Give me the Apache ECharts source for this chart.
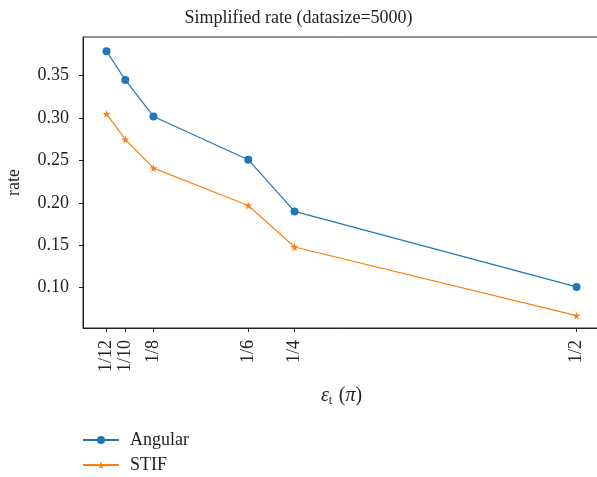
<!DOCTYPE html>
<html>
<head>
<meta charset="utf-8">
<script src="https://cdn.jsdelivr.net/npm/echarts@6/dist/echarts.min.js"></script>
<style>
  html, body { margin: 0; padding: 0; background: #fff; }
  #chart { width: 597px; height: 477px; }
</style>
</head>
<body>
<div id="chart"></div>
<script>
// x positions as placed on the plot, and the labels shown at them
const xPositions = [1 / 12, 1 / 10, 1 / 8, 0.209, 1 / 4, 1 / 2];
const xLabels = ['1/12', '1/10', '1/8', '1/6', '1/4', '1/2'];
const yTicks = [0.10, 0.15, 0.20, 0.25, 0.30, 0.35];
const angular = [0.379, 0.345, 0.302, 0.251, 0.190, 0.101];
const stif = [0.305, 0.275, 0.241, 0.197, 0.148, 0.067];

const font = '"Liberation Serif", "DejaVu Serif", serif';
const axisColor = '#222';

const chart = echarts.init(document.getElementById('chart'), null, { renderer: 'canvas' });

const option = {
  animation: false,
  title: {
    text: 'Simplified rate (datasize=5000)',
    left: 'center',
    top: 4,
    textStyle: { fontFamily: font, fontSize: 18, fontWeight: 'normal', color: '#222' }
  },
  grid: {
    left: 83,
    right: -3,
    top: 37,
    bottom: 149,
    show: true,
    borderColor: axisColor,
    borderWidth: 1,
    containLabel: false,
    outerBoundsMode: 'none'
  },
  legend: {
    orient: 'vertical',
    left: 82,
    top: 431,
    padding: 0,
    itemWidth: 36,
    itemHeight: 10,
    itemGap: 7,
    textStyle: { fontFamily: font, fontSize: 18, color: '#222', padding: [0, 0, 0, 6] },
    data: ['Angular', 'STIF']
  },
  xAxis: {
    type: 'value',
    min: 0.0625,
    max: 0.5208,
    name: '{e|ε}{s|t}  {n|(}{e|π}{n|)}',
    nameLocation: 'middle',
    nameGap: 57,
    nameTextStyle: {
      rich: {
        e: { fontFamily: font, fontSize: 20, fontStyle: 'italic', color: '#222' },
        s: { fontFamily: font, fontSize: 12, color: '#222', verticalAlign: 'bottom', padding: [10, 0, 0, 0] },
        n: { fontFamily: font, fontSize: 20, color: '#222' }
      }
    },
    axisLine: { show: true, lineStyle: { color: axisColor } },
    axisTick: { show: true, length: 4, customValues: xPositions, lineStyle: { color: axisColor } },
    axisLabel: {
      customValues: xPositions,
      rotate: 90,
      margin: 12,
      fontFamily: font,
      fontSize: 18,
      color: '#222',
      formatter: function (v) {
        let best = 0;
        xPositions.forEach((p, i) => { if (Math.abs(p - v) < Math.abs(xPositions[best] - v)) best = i; });
        return xLabels[best];
      }
    },
    splitLine: { show: false }
  },
  yAxis: {
    type: 'value',
    min: 0.0525,
    max: 0.3957,
    name: 'rate',
    nameLocation: 'middle',
    nameGap: 60,
    nameTextStyle: { fontFamily: font, fontSize: 18, color: '#222' },
    axisLine: { show: true, lineStyle: { color: axisColor } },
    axisTick: { show: true, length: 4, customValues: yTicks, lineStyle: { color: axisColor } },
    axisLabel: {
      customValues: yTicks,
      margin: 14,
      fontFamily: font,
      fontSize: 18,
      color: '#222',
      formatter: v => v.toFixed(2)
    },
    splitLine: { show: false }
  },
  series: [
    {
      name: 'Angular',
      type: 'line',
      data: xPositions.map((x, i) => [x, angular[i]]),
      symbol: 'circle',
      symbolSize: 8,
      color: '#1f77b4',
      lineStyle: { width: 1.2 }
    },
    {
      name: 'STIF',
      type: 'line',
      data: xPositions.map((x, i) => [x, stif[i]]),
      symbol: 'path://M50,0 L61,35 L98,35 L68,57 L79,91 L50,70 L21,91 L32,57 L2,35 L39,35 Z',
      symbolSize: 8,
      color: '#ff7f0e',
      lineStyle: { width: 1.2 }
    }
  ]
};

chart.setOption(option);
</script>
</body>
</html>
